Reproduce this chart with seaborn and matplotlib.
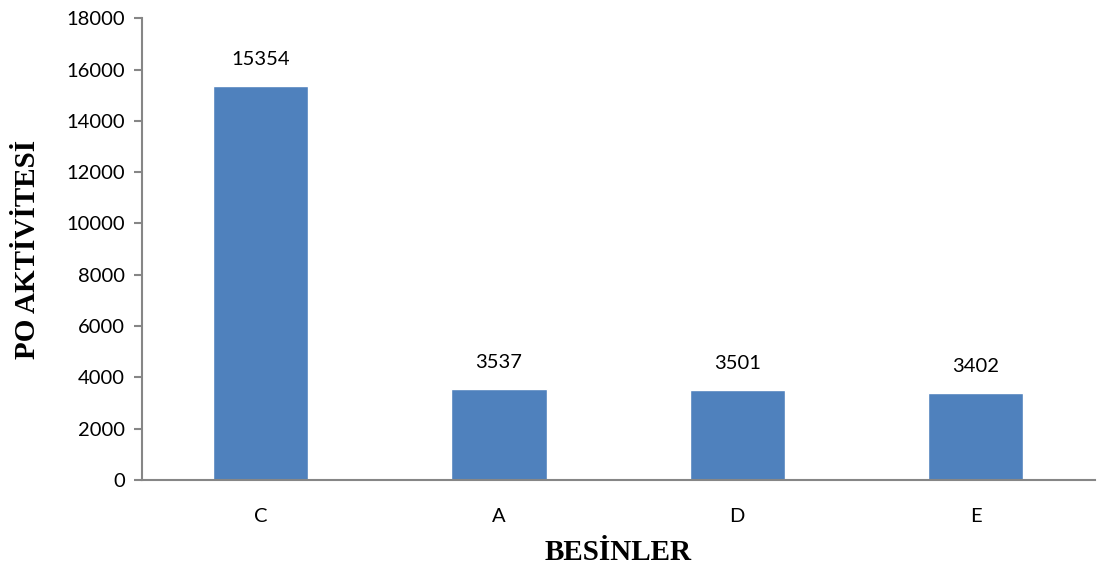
import matplotlib
matplotlib.use("Agg")
import matplotlib.pyplot as plt
import seaborn as sns
import pandas as pd

# data
besinler = ["C", "A", "D", "E"]
po_aktivitesi = [15354, 3537, 3501, 3402]

sns.set_style("white")
plt.rcParams['font.family'] = ['Lato', 'DejaVu Sans']
plt.rcParams['text.color'] = 'black'
plt.rcParams['axes.labelcolor'] = 'black'
plt.rcParams['xtick.labelcolor'] = 'black'
plt.rcParams['ytick.labelcolor'] = 'black'

df = pd.DataFrame({"Besin": besinler, "PO": po_aktivitesi})

fig, ax = plt.subplots(figsize=(10.98, 5.70), dpi=100)
fig.subplots_adjust(left=0.129, right=0.997, top=0.968, bottom=0.158)

sns.barplot(data=df, x="Besin", y="PO", color="#4F81BD", saturation=1, width=0.4, ax=ax)

for i, v in enumerate(po_aktivitesi):
    ax.text(i, v + 700, str(v), ha="center", va="bottom", fontsize=14.5, color="black")

ax.set_ylim(0, 18000)
ax.set_xlim(-0.5, 3.5)
ax.set_yticks(range(0, 18001, 2000))
ax.tick_params(axis="y", labelsize=14.5, length=6, width=1.5, color="#868686", left=True, pad=6)
ax.tick_params(axis="x", labelsize=14.5, length=0, pad=20)

for s in ["top", "right"]:
    ax.spines[s].set_visible(False)
for s in ["left", "bottom"]:
    ax.spines[s].set_color("#868686")
    ax.spines[s].set_linewidth(1.5)

ax.set_xlabel("BESİNLER", fontsize=21, fontweight="bold", family="Liberation Serif", labelpad=10)
ax.set_ylabel("PO AKTİVİTESİ", fontsize=21, fontweight="bold", family="Liberation Serif", labelpad=18)

plt.savefig("out.png", dpi=100)
